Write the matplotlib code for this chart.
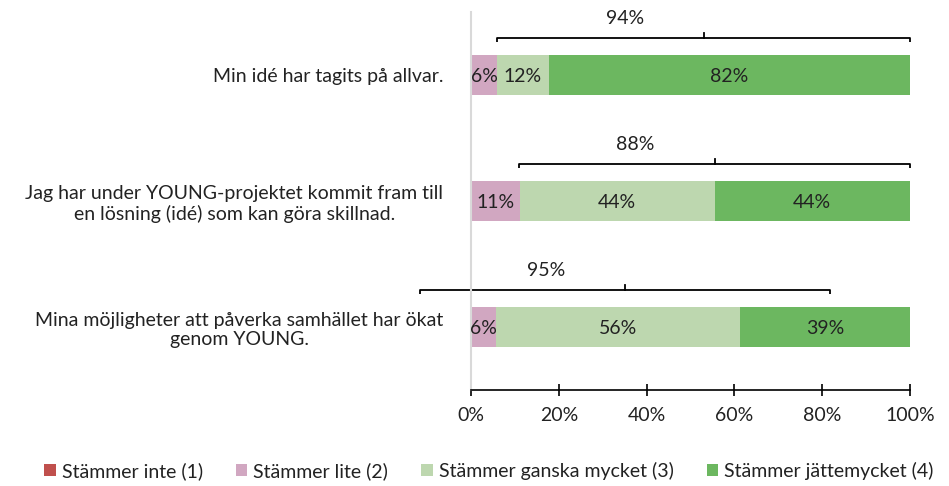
import matplotlib
matplotlib.use("Agg")
import matplotlib.pyplot as plt
from matplotlib.patches import Patch

plt.rcParams['font.family'] = ['Lato', 'DejaVu Sans']

categories = [
    "Min idé har tagits på allvar.",
    "Jag har under YOUNG-projektet kommit fram till\nen lösning (idé) som kan göra skillnad.",
    "Mina möjligheter att påverka samhället har ökat\ngenom YOUNG.",
]
series_names = ["Stämmer inte (1)", "Stämmer lite (2)", "Stämmer ganska mycket (3)", "Stämmer jättemycket (4)"]
inte = [0.0, 0.0, 0.0]
lite = [5.9, 11.1, 5.6]
ganska = [11.8, 44.4, 55.6]
jatte = [82.4, 44.4, 38.9]
bracket_labels = ["94%", "88%", "95%"]
bracket_start = [6, 11, -11.6]
bracket_end = [100, 100, 81.8]
xticks = [0, 20, 40, 60, 80, 100]

colors = ["#C0504D", "#D1A7C1", "#BDD7AF", "#6CB760"]
FS = 14

fig = plt.figure(figsize=(9.49, 4.86), dpi=100)
ax = fig.add_axes([471/949, 96/486, 439/949, 378/486])

series = [inte, lite, ganska, jatte]
ypos = list(range(len(categories)))
left = [0] * len(categories)
h = 0.325
for vals, col in zip(series, colors):
    ax.barh(ypos, vals, left=left, height=h, color=col, edgecolor='none')
    for y, v, l in zip(ypos, vals, left):
        if v > 0:
            ax.text(l + v / 2, y + 0.01, f"{round(v):d}%", ha='center', va='center', fontsize=FS, color='#222222')
    left = [a + b for a, b in zip(left, vals)]

# brackets
for y, s, e, lab in zip(ypos, bracket_start, bracket_end, bracket_labels):
    yb = y - 0.295
    ax.plot([s, s, e, e], [yb + 0.03, yb, yb, yb + 0.03], color='black', lw=1.3, clip_on=False, solid_capstyle='butt')
    c = (s + e) / 2
    ax.plot([c, c], [yb, yb - 0.035], color='black', lw=1.3, clip_on=False)
    ax.text(c - 18, yb - 0.15, lab, ha='center', va='center', fontsize=FS, color='#222222')

ax.set_xlim(0, 100)
ax.set_ylim(2.5, -0.5)
ax.set_xticks(xticks)
ax.set_xticklabels([f"{t}%" for t in xticks], fontsize=FS, color='#222222')
ax.set_yticks(ypos)
ax.set_yticklabels(categories, fontsize=FS, color='#222222', multialignment='center')
ax.tick_params(axis='y', length=0, pad=20)
ax.tick_params(axis='x', direction='inout', length=8, width=1.2, pad=8)
for s in ['top', 'right']:
    ax.spines[s].set_visible(False)
ax.spines['left'].set_color('#D9D9D9')
ax.spines['left'].set_linewidth(1.5)
ax.spines['bottom'].set_color('black')
ax.spines['bottom'].set_linewidth(1.2)

handles = [Patch(facecolor=c, edgecolor='none') for c in colors]
fig.legend(handles, series_names, loc='center', bbox_to_anchor=(0.515, 15/486), ncol=4,
           frameon=False, fontsize=FS, handlelength=0.6, handleheight=0.6, handletextpad=0.3,
           columnspacing=1.7, labelcolor='#222222')

fig.savefig("out.png", dpi=100)
